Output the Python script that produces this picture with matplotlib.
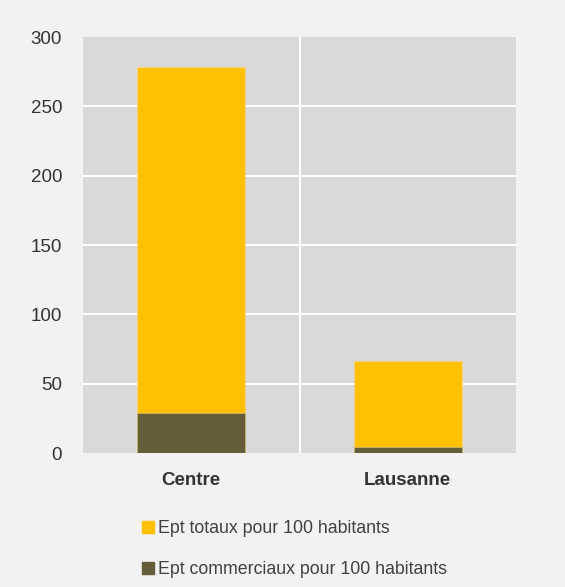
import matplotlib
matplotlib.use("Agg")
import matplotlib.pyplot as plt
from matplotlib.patches import Patch
from matplotlib import font_manager

names = {f.name for f in font_manager.fontManager.ttflist}
fam = "Liberation Sans Narrow" if "Liberation Sans Narrow" in names else "Liberation Sans"
plt.rcParams["font.family"] = [fam, "DejaVu Sans"]

categories = ["Centre", "Lausanne"]
totaux = [278.5, 66]
commerciaux = [29, 4.3]
yticks = [0, 50, 100, 150, 200, 250, 300]

YEL = "#ffc000"
OLV = "#655c38"

fig = plt.figure(figsize=(5.65, 5.87), dpi=100, facecolor="#f2f2f2")
ax = fig.add_axes([83/565, 1 - 453/587, 433/565, 416/587], facecolor="#d9d9d9")

x = range(len(categories))
ax.bar(x, totaux, width=0.5, color=YEL, edgecolor="#f5d680", linewidth=0.6, zorder=3,
       label="Ept totaux pour 100 habitants")
ax.bar(x, commerciaux, width=0.5, color=OLV, edgecolor="#c9b56e", linewidth=0.6, zorder=4,
       label="Ept commerciaux pour 100 habitants")

ax.set_xlim(-0.5, 1.5)
ax.set_ylim(0, 300)
ax.set_yticks(yticks)
for v in yticks[1:-1]:
    ax.axhline(v, color="white", lw=1.5, zorder=1)
ax.axvline(0.5, color="white", lw=1.5, zorder=1)
ax.set_xticks(list(x))
ax.set_xticklabels(categories, fontweight="bold")
ax.tick_params(axis="both", length=0, labelsize=13.5, colors="#333333")
ax.tick_params(axis="y", pad=15)
ax.tick_params(axis="x", pad=14)
for s in ax.spines.values():
    s.set_visible(False)

handles = [Patch(color=YEL), Patch(color=OLV)]
labels = ["Ept totaux pour 100 habitants", "Ept commerciaux pour 100 habitants"]
fig.legend(handles, labels, loc="upper left", bbox_to_anchor=(126/565, 1 - 504/587),
           frameon=False, fontsize=12.8, handlelength=0.65, handleheight=0.65,
           handletextpad=0.25, labelspacing=1.35, labelcolor="#404040")

fig.savefig("out.png", dpi=100, facecolor=fig.get_facecolor())
